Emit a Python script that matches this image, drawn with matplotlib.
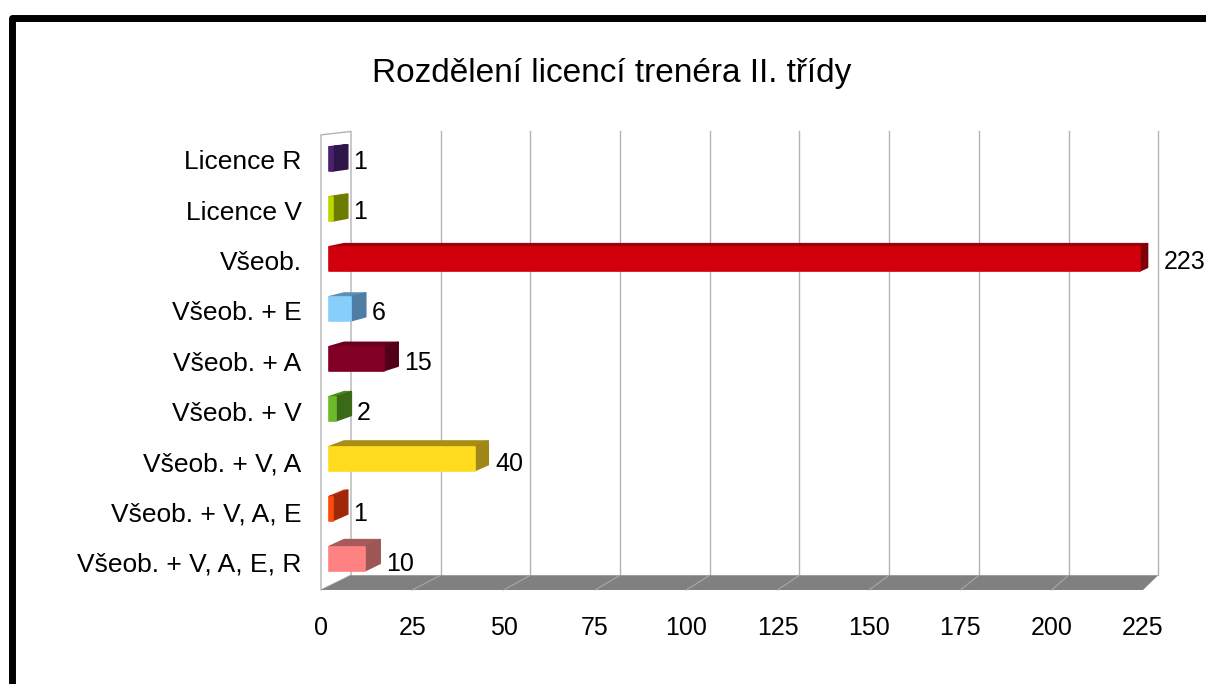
import matplotlib.pyplot as plt
from matplotlib.patches import Polygon
from matplotlib.lines import Line2D

plt.rcParams['font.family'] = ['Liberation Sans', 'DejaVu Sans']

title = 'Rozdělení licencí trenéra II. třídy'
categories = ['Licence R', 'Licence V', 'Všeob.', 'Všeob. + E', 'Všeob. + A',
              'Všeob. + V', 'Všeob. + V, A', 'Všeob. + V, A, E', 'Všeob. + V, A, E, R']
counts = [1, 1, 223, 6, 15, 2, 40, 1, 10]
ticks = [0, 25, 50, 75, 100, 125, 150, 175, 200, 225]

# front / top / right side colour of every bar
front_colors = ['#4a2072', '#bcd600', '#d2000c', '#87cefa', '#820026',
                '#6cba2a', '#ffdc1e', '#ff4a0a', '#ff8282']
top_colors = ['#3c1a5e', '#8a9c00', '#9c000a', '#5f8fb6', '#6a001f',
              '#4c8a1e', '#a88e16', '#c0300a', '#a85a5a']
side_colors = ['#2f1648', '#6b7c00', '#7e0008', '#4f7ea4', '#52001a',
               '#3a6a18', '#a08818', '#a0280a', '#9c5656']

# box geometry
x_max = ticks[-1]
y_floor = len(categories) - 0.45
y_top = -0.5
bar_h = 0.48
d_front, d_back = 0.27, 0.77


def proj(x, y, d):
    # push a point from the front plane (d=0) towards the back wall (d=1)
    return x + d * (8.21 - 0.018 * x), y + d * (-0.0795 - 0.025 * y)


def poly(ax, pts, fc, ec=None, lw=0, z=1):
    p = Polygon(pts, closed=True, facecolor=fc, edgecolor=ec if ec else fc,
                linewidth=lw, joinstyle='round', clip_on=False, zorder=z)
    ax.add_patch(p)


W, H = 1206, 684
fig = plt.figure(figsize=(W / 100, H / 100), dpi=100)
ax = fig.add_axes([321 / W, 94 / H, 822 / W, 480 / H])
ax.set_xlim(0, x_max)
ax.set_ylim(y_floor, -0.994)
for s in ax.spines.values():
    s.set_visible(False)

# left wall
poly(ax, [proj(0, y_floor, 0), proj(0, y_top, 0), proj(0, y_top, 1), proj(0, y_floor, 1)],
     'white', '#b3b3b3', 1.0, z=1)

# back wall grid
for v in ticks[1:]:
    xa, ya = proj(v, y_floor, 1)
    xb, yb = proj(v, y_top, 1)
    ax.plot([xa, xb], [ya, yb], color='#b3b3b3', lw=1.0, clip_on=False, zorder=1)

# floor
poly(ax, [proj(0, y_floor, 0), proj(x_max, y_floor, 0), proj(x_max, y_floor, 1),
          proj(0, y_floor, 1)], '#808080', z=2)
for v in ticks[1:-1]:
    xa, ya = proj(v, y_floor, 0)
    xb, yb = proj(v, y_floor, 1)
    ax.plot([xa, xb], [ya, yb], color='#a8a8a8', lw=0.8, clip_on=False, zorder=3)

# bars
for i, v in enumerate(counts):
    y0 = i - bar_h / 2
    y1 = i + bar_h / 2
    poly(ax, [proj(0, y0, d_front), proj(v, y0, d_front), proj(v, y0, d_back),
              proj(0, y0, d_back)], top_colors[i], lw=1.2, z=4)
    poly(ax, [proj(v, y1, d_front), proj(v, y0, d_front), proj(v, y0, d_back),
              proj(v, y1, d_back)], side_colors[i], lw=1.2, z=4)
    poly(ax, [proj(0, y1, d_front), proj(v, y1, d_front), proj(v, y0, d_front),
              proj(0, y0, d_front)], front_colors[i], lw=1.2, z=5)
    ax.text(v + 7.8, i + 0.175, str(v), ha='left', va='baseline', fontsize=18,
            color='black', zorder=6)

ax.set_yticks(range(len(categories)), categories)
ax.set_xticks(ticks, [str(t) for t in ticks])
ax.tick_params(axis='y', length=0, pad=14, labelsize=19)
ax.tick_params(axis='x', length=0, pad=19, labelsize=18)

fig.text(612 / W, 1 - 82 / H, title, ha='center', va='baseline', fontsize=24)

# black frame (left and top edges only)
fig.add_artist(Line2D([11.5 / W, 11.5 / W, 1.01], [-0.01, 1 - 17.5 / H, 1 - 17.5 / H],
                      transform=fig.transFigure, color='black', lw=5.0,
                      solid_joinstyle='round'))

fig.savefig('out.png', dpi=100)
